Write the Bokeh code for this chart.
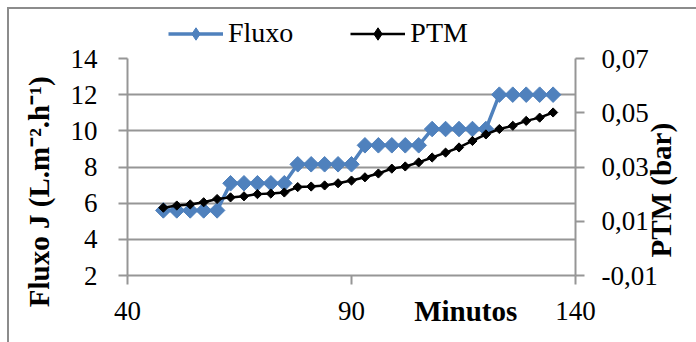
import math
from bokeh.plotting import figure
from bokeh.layouts import column
from bokeh.models import (Range1d, LinearAxis, FixedTicker, Legend, LegendItem,
                          ColumnDataSource)
from bokeh.embed import file_html
from bokeh.resources import INLINE

# ---------------- data ----------------
minutos = [48, 51, 54, 57, 60, 63, 66, 69, 72, 75, 78, 81, 84, 87, 90,
           93, 96, 99, 102, 105, 108, 111, 114, 117, 120, 123, 126, 129, 132, 135]
fluxo = [5.6, 5.6, 5.6, 5.6, 5.6,
         7.1, 7.1, 7.1, 7.1, 7.1,
         8.15, 8.15, 8.15, 8.15, 8.15,
         9.2, 9.2, 9.2, 9.2, 9.2,
         10.1, 10.1, 10.1, 10.1, 10.1,
         12.0, 12.0, 12.0, 12.0, 12.0]
ptm = [0.0150, 0.0158, 0.0162, 0.0170, 0.0182, 0.0188, 0.0192, 0.0200, 0.0202, 0.0206,
       0.0226, 0.0228, 0.0232, 0.0240, 0.0250, 0.0262, 0.0276, 0.0294, 0.0302, 0.0317,
       0.0335, 0.0353, 0.0372, 0.0396, 0.0420, 0.0440, 0.0452, 0.0470, 0.0482, 0.0501]

x_ticks = [40, 90, 140]
y_left_ticks = [2, 4, 6, 8, 10, 12, 14]
y_right_ticks = [-0.01, 0.01, 0.03, 0.05, 0.07]
y_right_labels = ["-0,01", "0,01", "0,03", "0,05", "0,07"]

series_names = ["Fluxo", "PTM"]
x_title = "Minutos"
y_left_title = "Fluxo  J  (L.m\u207B\u00B2.h\u207B\u00B9)"
y_right_title = "PTM  (bar)"

# ---------------- style ----------------
W, H = 696, 342
TOP_H = 48
FONT = "Liberation Serif"
BLUE = "#4F81BD"
GRAY = "#969696"

src = ColumnDataSource(dict(x=minutos, fluxo=fluxo, ptm=ptm))

# ---------------- main chart ----------------
p = figure(width=W, height=H - TOP_H, x_range=Range1d(40, 140), y_range=Range1d(2, 14),
           output_backend="svg", toolbar_location=None,
           min_border_left=127, min_border_right=115,
           min_border_top=58 - TOP_H, min_border_bottom=67)
p.extra_y_ranges = {"ptm": Range1d(-0.01, 0.07)}
p.outline_line_color = None
p.background_fill_color = "white"
p.border_fill_color = None

xa = p.xaxis[0]
xa.ticker = FixedTicker(ticks=x_ticks)
ya = p.yaxis[0]
ya.ticker = FixedTicker(ticks=y_left_ticks)
ra = LinearAxis(y_range_name="ptm", ticker=FixedTicker(ticks=y_right_ticks),
                major_label_overrides={t: l for t, l in zip(y_right_ticks, y_right_labels)})
p.add_layout(ra, "right")

for ax in (xa, ya, ra):
    ax.axis_line_color = GRAY
    ax.axis_line_width = 2
    ax.major_tick_line_color = GRAY
    ax.major_tick_line_width = 2
    ax.major_tick_in = 0
    ax.major_tick_out = 9
    ax.minor_tick_line_color = None
    ax.major_label_text_font = FONT
    ax.major_label_text_font_size = "27px"
    ax.major_label_text_color = "black"
xa.major_label_standoff = 17
ya.major_label_standoff = 21
ra.major_label_standoff = 17

# axis titles: carried by label-only axes so that they sit where the reference has them
def title_axis(pos, text, standoff, orientation="vertical"):
    a = LinearAxis(ticker=FixedTicker(ticks=[pos]), major_label_overrides={pos: text})
    a.axis_line_color = None
    a.major_tick_line_color = None
    a.minor_tick_line_color = None
    a.major_tick_in = 0
    a.major_tick_out = 0
    a.major_label_standoff = standoff
    a.major_label_orientation = orientation
    a.major_label_text_font = FONT
    a.major_label_text_font_size = "29px"
    a.major_label_text_font_style = "bold"
    a.major_label_text_color = "black"
    return a

p.add_layout(title_axis(7.03, y_left_title, 12), "left")
p.add_layout(title_axis(3.0, y_right_title, 1, orientation=math.pi / 2), "right")
p.add_layout(title_axis(115.5, x_title, -28, orientation="horizontal"), "below")

p.xgrid.visible = False
p.ygrid.ticker = FixedTicker(ticks=y_left_ticks)
p.ygrid.grid_line_color = GRAY
p.ygrid.grid_line_width = 2

l1 = p.line("x", "fluxo", source=src, line_color=BLUE, line_width=3.5)
s1 = p.scatter("x", "fluxo", source=src, marker="square", size=11, angle=math.pi / 4,
               fill_color=BLUE, line_color=BLUE)
l2 = p.line("x", "ptm", source=src, y_range_name="ptm", line_color="black", line_width=2.5)
s2 = p.scatter("x", "ptm", source=src, y_range_name="ptm", marker="square", size=6.5,
               angle=math.pi / 4, fill_color="black", line_color="black")

# ---------------- legend strip above the chart ----------------
# the series are drawn here too, but the strip's ranges keep them out of view:
# only their legend keys show
lf = figure(width=W, height=TOP_H, x_range=Range1d(0, 1), y_range=Range1d(0, 1),
            output_backend="svg", toolbar_location=None,
            x_axis_type=None, y_axis_type=None, min_border=0)
lf.outline_line_color = None
lf.background_fill_color = None
lf.border_fill_color = None
lf.grid.visible = False
el1 = lf.line("x", "fluxo", source=src, line_color=BLUE, line_width=3.5)
ed1 = lf.scatter("x", "fluxo", source=src, marker="diamond", fill_color=BLUE, line_color=BLUE)
el2 = lf.line("x", "ptm", source=src, line_color="black", line_width=2.5)
ed2 = lf.scatter("x", "ptm", source=src, marker="diamond", fill_color="black",
                 line_color="black")

legend = Legend(items=[LegendItem(label=series_names[0], renderers=[el1, ed1]),
                       LegendItem(label=series_names[1], renderers=[el2, ed2])],
                location=(41, -1), orientation="horizontal",
                glyph_width=55, glyph_height=31, label_standoff=5,
                padding=0, margin=0, spacing=57,
                border_line_color=None, background_fill_alpha=0,
                label_text_font=FONT, label_text_font_size="28px",
                label_text_color="black")
lf.add_layout(legend)

layout = column(lf, p, spacing=0)
# outer chart border (left and top edges visible, the rest is cropped)
layout.styles = {"box-shadow": "inset 7px 7px 0 0 #ffffff, inset 9px 9px 0 0 #8c8c8c"}

open("out.html", "w").write(file_html(layout, INLINE))
